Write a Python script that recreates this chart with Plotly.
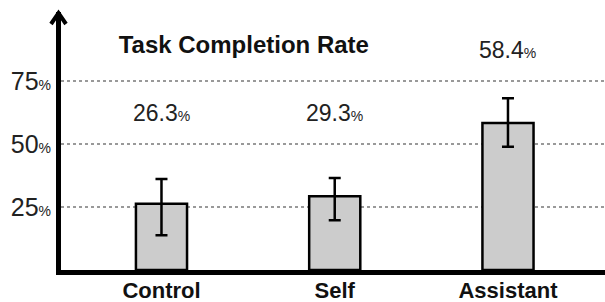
import plotly.graph_objects as go

categories = ["Control", "Self", "Assistant"]
rates = [26.3, 29.3, 58.4]
err_plus = [9.9, 7.3, 9.8]
err_minus = [12.5, 9.5, 9.4]
tick_vals = [25, 50, 75]
tick_labels = ["25", "50", "75"]

FONT = "Liberation Sans, Arial, sans-serif"

fig = go.Figure()
fig.add_trace(go.Bar(
    x=categories, y=rates, width=0.295,
    marker=dict(color="#cccccc", line=dict(color="#000000", width=2.5)),
    error_y=dict(type="data", symmetric=False, array=err_plus, arrayminus=err_minus,
                 color="#000000", thickness=2.5, width=6),
    hoverinfo="skip",
))

label_y = [62.2, 62.2, 87.4]
for c, v, ly in zip(categories, rates, label_y):
    fig.add_annotation(
        x=c, y=ly, xref="x", yref="y", showarrow=False,
        text=f"{v:.1f}<span style='font-size:14px'>%</span>",
        font=dict(family=FONT, size=23, color="#222222"),
        xanchor="center", yanchor="middle",
    )

fig.update_layout(
    width=605, height=302,
    margin=dict(l=61, r=0, t=12, b=32, autoexpand=False),
    paper_bgcolor="white", plot_bgcolor="white",
    showlegend=False,
    title=dict(text="<b>Task Completion Rate</b>", x=0.403, xref="container",
               xanchor="center", y=1 - 45 / 302, yref="container", yanchor="middle",
               font=dict(family=FONT, size=24, color="#111111"), automargin=False),
    xaxis=dict(
        range=[-0.580, 2.560], showline=True, linecolor="#000000", linewidth=5,
        showgrid=False, ticks="", zeroline=False, automargin=False,
        tickfont=dict(family=FONT, size=22, color="#111111", weight="bold"),
        ticklabelstandoff=-3,
    ),
    yaxis=dict(
        range=[0, 102.5], showline=True, linecolor="#000000", linewidth=5,
        tickmode="array", tickvals=tick_vals, automargin=False,
        ticktext=[f"{t}<span style='font-size:14px'>%</span>" for t in tick_labels],
        tickfont=dict(family=FONT, size=25, color="#222222"),
        ticks="", zeroline=False,
        showgrid=True, gridcolor="#999999", gridwidth=2, griddash="dot",
        ticklabelstandoff=0,
    ),
)

# arrow head on the y axis
fig.add_shape(
    type="path", xref="paper", yref="paper",
    xsizemode="pixel", ysizemode="pixel", xanchor=0, yanchor=1,
    path="M-10,-12 L-2.5,-1 L5,-12",
    line=dict(color="#000000", width=4),
)

fig.write_html("out.html", post_script="document.body.style.margin='0';",
               config={"displayModeBar": False})
